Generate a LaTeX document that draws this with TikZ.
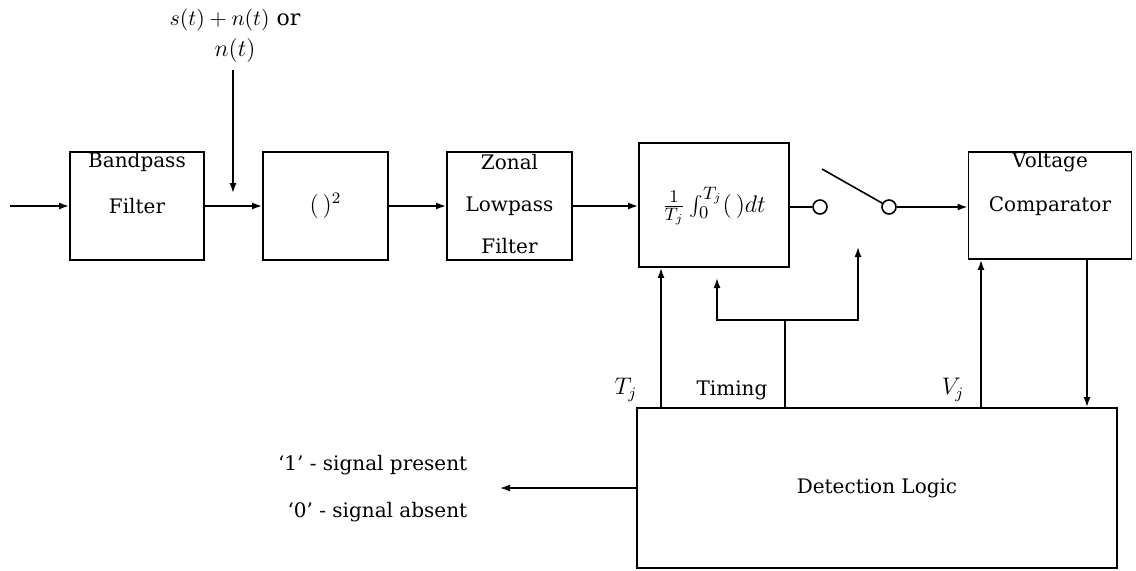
\documentclass[tikz,border=0pt]{standalone}
\usepackage{fontspec}
\setmainfont{DejaVu Serif}
\usetikzlibrary{arrows.meta,calc}
\begin{document}
\begin{tikzpicture}[x=0.5pt,y=-0.5pt,
  font=\fontsize{10}{12}\selectfont,
  line width=0.8pt,
  box/.style={draw,line width=0.9pt,inner sep=0pt},
  lbl/.style={inner sep=1pt},
  mth/.style={inner sep=1pt,font=\fontsize{12}{14}\selectfont},
  arr/.style={-{Latex[length=5pt,width=3.5pt]}},
  sw/.style={draw,circle,minimum size=7pt,inner sep=0pt,line width=0.8pt}]
\useasboundingbox (0,0) rectangle (1136,570);
% boxes
\node[box,minimum width=67pt,minimum height=54pt] (bp) at (137,206) {};
\node[box,minimum width=62.5pt,minimum height=54pt] (sq) at (325.5,206) {};
\node[box,minimum width=62.5pt,minimum height=54pt] (zl) at (509.5,206) {};
\node[box,minimum width=75pt,minimum height=62pt] (in) at (714,205) {};
\node[box,minimum width=81.5pt,minimum height=53.5pt] (vc) at (1050,205.5) {};
\node[box,minimum width=240pt,minimum height=80pt] (dl) at (877,488) {};
% box texts
\node[lbl] (bp1) at (137,162) {Bandpass};
\node[lbl] (bp2) at (137,206) {Filter};
\node[mth] (sqt) at (325.5,206) {$(\,)^2$};
\node[lbl] (zl1) at (509.5,162) {Zonal};
\node[lbl] (zl2) at (509.5,206) {Lowpass};
\node[lbl] (zl3) at (509.5,246) {Filter};
\node[mth,font=\fontsize{12.5}{14}\selectfont] (int) at (714,206) {$\frac{1}{T_j}\int_0^{T_j}(\,)dt$};
\node[lbl] (vc1) at (1050,162) {Voltage};
\node[lbl] (vc2) at (1050,206) {Comparator};
\node[lbl] (dlt) at (877,488) {Detection Logic};
% input
\coordinate (inp) at (10,206);
\draw[arr] (inp) -- (bp.west);
\draw[arr] (bp.east) -- (sq.west);
\draw[arr] (sq.east) -- (zl.west);
\draw[arr] (zl.east) -- (in.west |- zl.east);
% noise input
\node[mth,font=\fontsize{11}{13}\selectfont] (ns1) at (235,20) {$s(t)+n(t)$ or};
\node[mth] (ns2) at (235,50) {$n(t)$};
\coordinate (nsTop) at (233,70);
\coordinate (nsEnd) at (233,193);
\draw[arr] (nsTop) -- (nsEnd);
% switch
\node[sw] (c1) at (820,207) {};
\node[sw] (c2) at (889,207) {};
\coordinate (blade) at (822,169);
\draw (in.east |- c1) -- (c1);
\draw (blade) -- (c2);
\draw[arr] (c2) -- (vc.west |- c2);
% timing
\coordinate (tj) at (785,320);
\coordinate (tL) at (717,278);
\coordinate (tR) at (858,247);
\draw (dl.north -| tj) -- (tj);
\draw[arr] (tj) -| (tL);
\draw[arr] (tj) -| (tR);
% T_j and V_j
\coordinate (tjx) at (661,0);
\coordinate (vjx) at (981,0);
\coordinate (cdx) at (1087,0);
\draw[arr] (dl.north -| tjx) -- (in.south -| tjx);
\draw[arr] (dl.north -| vjx) -- (vc.south -| vjx);
\draw[arr] (vc.south -| cdx) -- (dl.north -| cdx);
\node[mth] (tjl) at (626,390) {$T_j$};
\node[lbl] (tml) at (732,390) {Timing};
\node[mth] (vjl) at (953,390) {$V_j$};
% output
\coordinate (out) at (500,488);
\draw[arr] (dl.west) -- (out);
\node[lbl,anchor=east] (o1) at (470,465) {‘1’ - signal present};
\node[lbl,anchor=east] (o0) at (470,512) {‘0’ - signal absent};
\end{tikzpicture}
\end{document}
